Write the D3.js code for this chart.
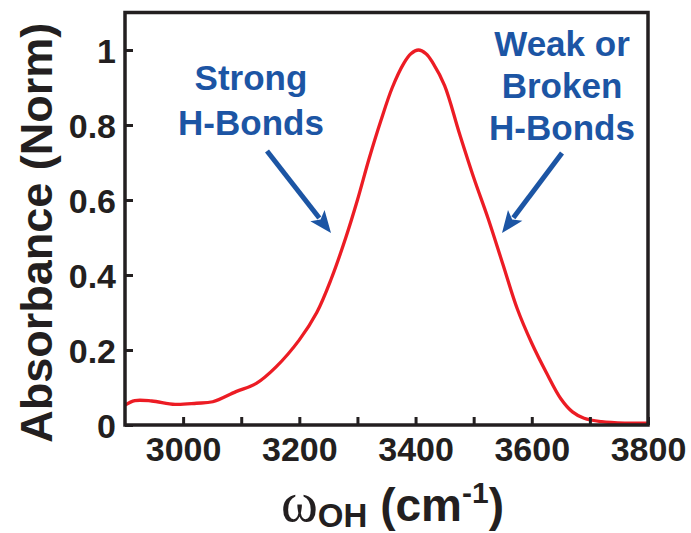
<!DOCTYPE html>
<html><head><meta charset="utf-8">
<script src="https://cdn.jsdelivr.net/npm/d3@7"></script>
<style>
html,body{margin:0;padding:0;background:#fff;}
svg{display:block;}
</style></head>
<body>
<script>
// ---- data ----
const wavenumber = [2900, 2917, 2946, 2986, 3023, 3051, 3091, 3126, 3160, 3200, 3230, 3255, 3280, 3300, 3320, 3340, 3360, 3380, 3392, 3405, 3418, 3430, 3450, 3475, 3500, 3525, 3550, 3575, 3600, 3625, 3650, 3670, 3690, 3720, 3760, 3800];
const absorbance = [0.053, 0.065, 0.064, 0.055, 0.058, 0.062, 0.089, 0.111, 0.155, 0.227, 0.300, 0.390, 0.500, 0.600, 0.710, 0.810, 0.900, 0.965, 0.990, 1.0, 0.990, 0.965, 0.905, 0.780, 0.660, 0.550, 0.430, 0.310, 0.218, 0.140, 0.070, 0.035, 0.018, 0.009, 0.005, 0.005];
const xTickValues = [3000, 3100, 3200, 3300, 3400, 3500, 3600, 3700, 3800];
const xTickLabels = ["3000", "", "3200", "", "3400", "", "3600", "", "3800"];
const yTickValues = [0, 0.2, 0.4, 0.6, 0.8, 1];
const yTickLabels = ["0", "0.2", "0.4", "0.6", "0.8", "1"];
const leftNote = ["Strong", "H-Bonds"];
const rightNote = ["Weak or", "Broken", "H-Bonds"];

// ---- layout ----
const W = 691, H = 533;
const m = {left:125, right:43, top:12.5, bottom:108};
const FONT = "'Liberation Sans', Arial, Helvetica, sans-serif";
const INK = "#231f20", RED = "#ec1c24", BLUE = "#1c55a4";

const svg = d3.select("body").append("svg").attr("width", W).attr("height", H);
const x = d3.scaleLinear().domain([2900, 3800]).range([m.left, W - m.right]);
const y = d3.scaleLinear().domain([0, 1.1]).range([H - m.bottom, m.top]);

// curve
const pts = wavenumber.map((v, i) => [v, absorbance[i]]);
svg.append("path")
  .datum(pts)
  .attr("fill", "none")
  .attr("stroke", RED)
  .attr("stroke-width", 3.3)
  .attr("stroke-linejoin", "round")
  .attr("d", d3.line().x(d => x(d[0])).y(d => y(d[1])).curve(d3.curveCatmullRom.alpha(0.5)));

// axes
const xAxis = d3.axisBottom(x).tickValues(xTickValues)
  .tickFormat((d, i) => xTickLabels[i]).tickSizeInner(-8).tickSizeOuter(0);
const gx = svg.append("g").attr("transform", `translate(0,${H - m.bottom})`).call(xAxis);
const yAxis = d3.axisLeft(y).tickValues(yTickValues)
  .tickFormat((d, i) => yTickLabels[i]).tickSizeInner(-8).tickSizeOuter(0).tickPadding(10);
const gy = svg.append("g").attr("transform", `translate(${m.left},0)`).call(yAxis);
[gx, gy].forEach(g => {
  g.select(".domain").remove();
  g.selectAll(".tick line").attr("stroke", INK).attr("stroke-width", 3);
  g.selectAll(".tick text").attr("fill", INK).style("font-family", FONT)
    .style("font-weight", "bold").style("font-size", "34px");
});
gx.selectAll(".tick text").attr("dy", null).attr("y", 36);
gy.selectAll(".tick text").attr("x", -9).attr("dy", "0.36em");

// frame
svg.append("rect")
  .attr("x", m.left).attr("y", m.top)
  .attr("width", W - m.left - m.right).attr("height", H - m.top - m.bottom)
  .attr("fill", "none").attr("stroke", INK).attr("stroke-width", 3.5);

// y title
svg.append("text")
  .attr("transform", `translate(52,${(m.top + H - m.bottom) / 2 + 14}) rotate(-90)`)
  .attr("text-anchor", "middle")
  .attr("fill", INK)
  .style("font-family", FONT).style("font-weight", "bold").style("font-size", "45px")
  .text("Absorbance (Norm)");

// x title
const xt = svg.append("text")
  .attr("x", 281).attr("y", 521)
  .attr("fill", INK)
  .style("font-family", FONT).style("font-weight", "bold").style("font-size", "46px");
xt.append("tspan").style("font-family", "'Liberation Serif', 'Times New Roman', serif")
  .style("font-weight", "normal").style("font-size", "56px").text("ω");
xt.append("tspan").attr("dy", 6).style("font-size", "33px").text("OH");
xt.append("tspan").attr("dy", -6).text(" (cm");
xt.append("tspan").attr("dy", -18).style("font-size", "30px").text("-1");
xt.append("tspan").attr("dy", 18).text(")");

// annotations
function note(lines, cx, y0, lh) {
  const t = svg.append("text").attr("text-anchor", "middle").attr("fill", BLUE)
    .style("font-family", FONT).style("font-weight", "bold").style("font-size", "35px");
  lines.forEach((s, i) => t.append("tspan").attr("x", cx).attr("y", y0 + i * lh).text(s));
}
note(leftNote, 251, 90, 45);
note(rightNote, 562, 56, 42);

function arrow(x1, y1, x2, y2) {
  const a = Math.atan2(y2 - y1, x2 - x1);
  const L = 22, Wd = 9;
  const bx = x2 - L * Math.cos(a), by = y2 - L * Math.sin(a);
  svg.append("line").attr("x1", x1).attr("y1", y1).attr("x2", bx + 3 * Math.cos(a)).attr("y2", by + 3 * Math.sin(a))
    .attr("stroke", BLUE).attr("stroke-width", 5);
  const nx = -Math.sin(a), ny = Math.cos(a);
  svg.append("path")
    .attr("d", `M${x2},${y2}L${bx + nx * Wd},${by + ny * Wd}L${bx + 5 * Math.cos(a)},${by + 5 * Math.sin(a)}L${bx - nx * Wd},${by - ny * Wd}Z`)
    .attr("fill", BLUE);
}
arrow(267, 151, 331, 233);
arrow(562, 153, 502, 233);
</script>
</body></html>
